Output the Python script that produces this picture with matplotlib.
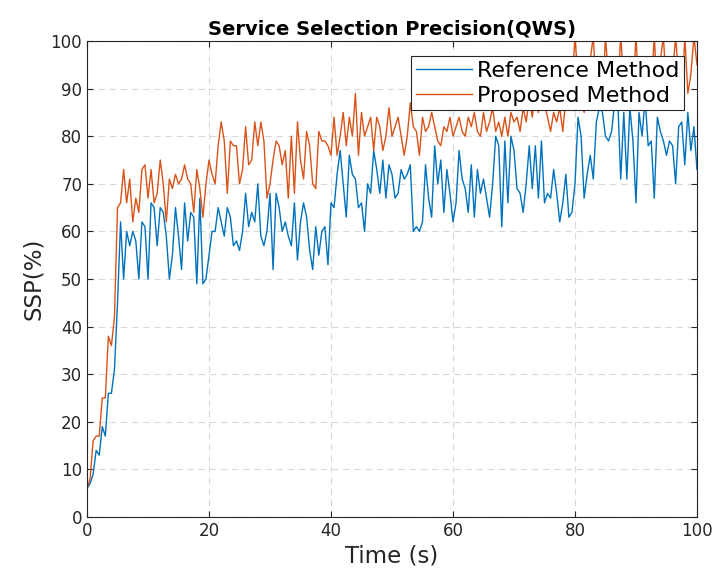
import numpy as np
import matplotlib.pyplot as plt

# time axis, one sample every 0.5 s
t = np.arange(0, 100.5, 0.5)

ref = [6, 7, 9, 14, 13, 19, 17, 26, 26, 31,
       45, 62, 50, 60, 57, 60, 58, 50, 62, 61,
       50, 66, 65, 57, 65, 64, 59, 50, 55, 65,
       59, 52, 66, 58, 64, 63, 49, 67, 49, 50,
       55, 60, 60, 65, 62, 59, 65, 63, 57, 58,
       56, 60, 68, 61, 64, 62, 70, 59, 57, 60,
       68, 52, 68, 65, 60, 62, 59, 57, 66, 54,
       62, 66, 63, 56, 52, 61, 55, 60, 61, 53,
       66, 65, 72, 77, 70, 63, 76, 72, 71, 65,
       66, 60, 70, 68, 77, 73, 68, 75, 67, 74,
       72, 67, 68, 73, 71, 72, 74, 60, 61, 60,
       62, 74, 67, 63, 78, 70, 75, 64, 73, 68,
       62, 66, 77, 71, 69, 64, 74, 63, 73, 68,
       71, 67, 63, 70, 80, 78, 61, 79, 66, 80,
       77, 69, 68, 64, 70, 78, 69, 78, 67, 79,
       66, 68, 67, 73, 68, 62, 66, 72, 63, 64,
       70, 84, 80, 67, 72, 76, 71, 83, 86, 85,
       80, 79, 81, 87, 88, 71, 85, 71, 86, 79,
       66, 85, 80, 88, 78, 79, 67, 84, 81, 79,
       76, 79, 78, 70, 82, 83, 74, 85, 77, 82,
       73]

prop = [6, 8, 16, 17, 17, 25, 25, 38, 36, 42,
        65, 66, 73, 66, 71, 62, 67, 64, 73, 74,
        67, 73, 66, 68, 75, 70, 62, 71, 69, 72,
        70, 71, 74, 71, 70, 64, 73, 69, 63, 70,
        75, 72, 70, 78, 83, 79, 68, 79, 78, 78,
        70, 73, 82, 74, 75, 83, 78, 83, 79, 67,
        70, 75, 79, 78, 74, 77, 67, 80, 68, 83,
        75, 71, 81, 78, 70, 69, 81, 79, 79, 78,
        76, 84, 76, 80, 85, 78, 84, 80, 89, 76,
        85, 80, 82, 84, 77, 84, 82, 77, 80, 86,
        80, 82, 84, 80, 76, 80, 87, 82, 81, 76,
        84, 81, 82, 85, 82, 79, 78, 82, 81, 84,
        80, 82, 84, 81, 80, 84, 82, 85, 81, 80,
        85, 81, 83, 86, 81, 83, 80, 84, 80, 85,
        83, 84, 81, 86, 83, 88, 84, 90, 85, 92,
        87, 84, 81, 85, 83, 86, 81, 88, 86, 90,
        101, 92, 88, 85, 90, 96, 101, 89, 93, 87,
        101, 92, 88, 95, 90, 101, 91, 87, 94, 89,
        101, 88, 92, 86, 95, 90, 101, 88, 96, 101,
        89, 87, 93, 101, 92, 86, 101, 89, 93, 101,
        95]

fig = plt.figure(figsize=(7.15, 5.78), dpi=100)
ax = fig.add_axes([0.1217, 0.1055, 0.8531, 0.8235])

ax.plot(t, ref, color="#0072BD", lw=1.0, label="Reference Method")
ax.plot(t, prop, color="#D95319", lw=1.0, label="Proposed Method")

ax.set_xlim(0, 100)
ax.set_ylim(0, 100)
ax.set_xticks(range(0, 101, 20))
ax.set_yticks(range(0, 101, 10))
ax.grid(True, linestyle=(0, (6, 4)), color="#d9d9d9", lw=0.8)
ax.tick_params(direction="in", top=True, right=True, labelsize=12,
               colors="#262626", length=4)
for s in ax.spines.values():
    s.set_color("#262626")
    s.set_linewidth(0.8)

ax.set_xlabel("Time (s)", fontsize=16.5, color="#262626", labelpad=3)
ax.set_ylabel("SSP(%)", fontsize=16.5, color="#262626", labelpad=4)
ax.set_title("Service Selection Precision(QWS)", fontsize=14,
             fontweight="bold", pad=4)

leg = ax.legend(loc="upper right", bbox_to_anchor=(0.978, 0.968),
                fontsize=16, fancybox=False, framealpha=1,
                labelspacing=0.22, handlelength=2.55,
                handletextpad=0.2, borderaxespad=0, borderpad=0.2)
leg.get_frame().set_edgecolor("#262626")
leg.get_frame().set_linewidth(0.8)

fig.savefig("out.png", dpi=100)
